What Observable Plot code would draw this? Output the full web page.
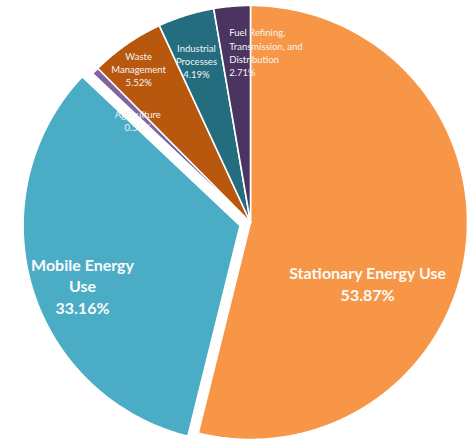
<!DOCTYPE html>
<html>
<head>
<meta charset="utf-8">
<script src="https://cdn.jsdelivr.net/npm/d3@7"></script>
<script src="https://cdn.jsdelivr.net/npm/@observablehq/plot@0.6"></script>
<style>
  html, body { margin: 0; padding: 0; background: #fff; }
  #chart svg { display: block; }
</style>
</head>
<body>
<div id="chart"></div>
<script>
// ---- data ----
const categories = [
  "Stationary Energy Use",
  "Mobile Energy Use",
  "Agriculture",
  "Waste Management",
  "Industrial Processes",
  "Fuel Refining, Transmission, and Distribution"
];
const shares = [53.87, 33.16, 0.55, 5.52, 4.19, 2.71];
const pctLabels = ["53.87%", "33.16%", "0.55%", "5.52%", "4.19%", "2.71%"];
const labelLines = [
  ["Stationary Energy Use"],
  ["Mobile Energy", "Use"],
  ["Agriculture"],
  ["Waste", "Management"],
  ["Industrial", "Processes"],
  ["Fuel Refining,", "Transmission, and", "Distribution"]
];
const colors = ["#F79646", "#4BACC6", "#8064A2", "#B8570E", "#236D7E", "#4B3560"];

// ---- layout (styling, not data) ----
const W = 474, H = 441, R = 217, CX = 250, CY = 222;
const explode = [0, 0.05, 0, 0, 0, 0];
const labelLayout = [
  {a: 117.4, r: 0.608, big: true, anchor: "middle"},
  {a: 249.4, r: 0.827, big: true, anchor: "middle"},
  {a: 312.1, r: 0.70, big: false, anchor: "middle"},
  {a: 323.9, r: 0.875, big: false, anchor: "middle"},
  {a: 341.5, r: 0.785, big: false, anchor: "middle"},
  {a: 352.9, r: 0.792, big: false, anchor: "start"}
];

const rad = d => d * Math.PI / 180;
const total = d3.sum(shares);
let cum = 0;
const slices = categories.map((c, i) => {
  const a0 = cum / total * 360;
  cum += shares[i];
  const a1 = cum / total * 360;
  const mid = (a0 + a1) / 2;
  const ox = explode[i] * Math.sin(rad(mid));
  const oy = explode[i] * Math.cos(rad(mid));
  return {cat: c, a0, a1, mid, ox, oy, i};
});

const pts = [];
for (const s of slices) {
  pts.push({cat: s.cat, x: s.ox, y: s.oy});
  const n = Math.max(2, Math.ceil((s.a1 - s.a0) / 0.5));
  for (let k = 0; k <= n; k++) {
    const a = rad(s.a0 + (s.a1 - s.a0) * k / n);
    pts.push({cat: s.cat, x: s.ox + Math.sin(a), y: s.oy + Math.cos(a)});
  }
  pts.push({cat: s.cat, x: s.ox, y: s.oy});
}

const labels = slices.map(s => {
  const L = labelLayout[s.i];
  return {
    x: L.r * Math.sin(rad(L.a)),
    y: L.r * Math.cos(rad(L.a)),
    text: [...labelLines[s.i], pctLabels[s.i]].join("\n"),
    big: L.big,
    anchor: L.anchor
  };
});

const chart = Plot.plot({
  width: W,
  height: H,
  margin: 0,
  x: {domain: [-CX / R, (W - CX) / R], range: [0, W], axis: null},
  y: {domain: [-(H - CY) / R, CY / R], range: [H, 0], axis: null},
  color: {domain: categories, range: colors},
  style: {fontFamily: "Lato, 'Open Sans', sans-serif", background: "#fff"},
  marks: [
    Plot.line(pts, {x: "x", y: "y", z: "cat", fill: "cat", stroke: "white", strokeWidth: 1.6, strokeLinejoin: "round", curve: "linear"}),
    Plot.text(labels.filter(d => d.big), {x: "x", y: "y", text: "text", fill: "#fbfbfb", fontSize: 16, fontWeight: "bold", lineHeight: 1.33, textAnchor: "middle"}),
    Plot.text(labels.filter(d => !d.big && d.anchor === "middle"), {x: "x", y: "y", text: "text", fill: "#f4f4f4", fontSize: 9.5, lineHeight: 1.38, textAnchor: "middle"}),
    Plot.text(labels.filter(d => d.anchor === "start"), {x: "x", y: "y", text: "text", fill: "#f4f4f4", fontSize: 9.5, lineHeight: 1.38, textAnchor: "start"})
  ]
});
document.getElementById("chart").appendChild(chart);
</script>
</body>
</html>
